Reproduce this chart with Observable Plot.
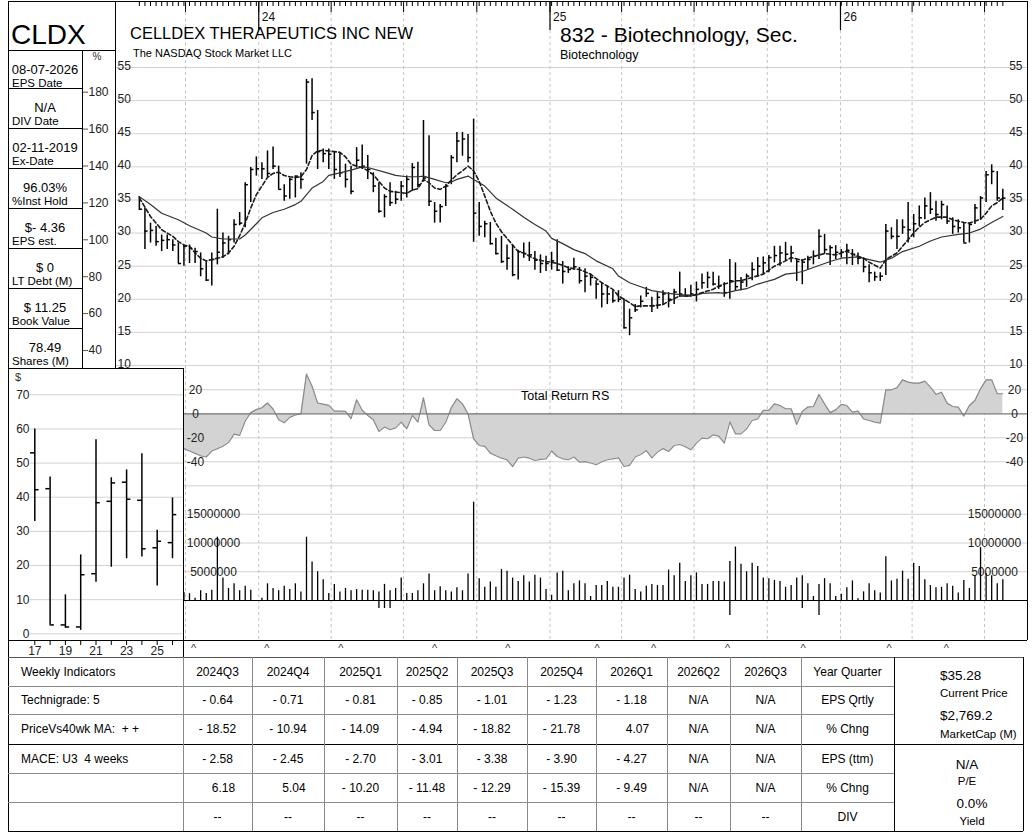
<!DOCTYPE html>
<html>
<head>
<meta charset="utf-8">
<script src="https://cdn.jsdelivr.net/npm/d3@7"></script>
<script src="https://cdn.jsdelivr.net/npm/@observablehq/plot@0.6"></script>
<style>
html,body{margin:0;padding:0;background:#fff;}
#root{position:relative;width:1032px;height:840px;overflow:hidden;background:#fff;font-family:"Liberation Sans",Arial,sans-serif;}
#root svg{position:absolute;}
</style>
</head>
<body>
<div id="root"></div>
<script>
// ---------------- DATA ----------------
const firstWeekDate = "2023-08-04"; // weekly bars, one per week
const barHigh = [35.5,33.8,31.5,31.0,29.7,29.7,29.0,28.5,28.2,28.2,
27.7,27.0,25.7,27.0,33.6,30.0,29.5,32.0,33.1,37.6,
39.9,41.5,40.6,42.4,43.0,40.1,37.3,38.3,38.6,39.1,
53.2,53.3,48.5,42.7,42.7,42.2,42.0,40.4,40.1,42.9,
43.3,41.7,39.1,37.6,35.8,37.6,36.3,37.8,38.6,40.5,
40.7,47.0,44.7,34.6,34.3,37.3,41.7,45.2,45.2,44.9,
47.2,34.6,31.8,31.6,29.2,29.5,28.2,28.2,27.4,28.5,
28.6,27.2,26.7,26.5,27.1,29.0,25.7,24.9,26.2,24.8,
24.6,23.8,22.8,22.5,22.0,21.3,21.3,20.0,18.5,19.2,
20.5,21.8,20.3,21.0,21.3,21.0,21.5,24.1,21.6,22.1,
22.6,23.8,24.1,24.1,23.5,22.5,26.0,25.5,23.3,23.8,
25.5,26.3,26.4,26.6,28.0,28.0,28.6,28.0,26.0,26.0,
26.5,27.3,30.5,29.8,28.1,28.1,27.5,28.3,27.5,27.0,
26.2,25.2,24.1,24.0,31.3,30.8,32.0,32.0,34.6,32.8,
34.1,35.3,36.1,34.8,34.8,34.1,32.3,32.0,31.5,31.5,
34.3,35.5,39.3,40.3,39.3,36.6];
const barLow = [33.4,27.5,28.5,28.0,27.2,27.5,27.2,25.4,25.0,25.4,
25.4,23.4,22.7,22.0,25.2,26.2,26.7,28.5,31.1,30.8,
34.6,38.6,38.1,38.4,39.6,36.6,34.8,35.1,35.3,36.6,
40.4,47.0,39.6,40.6,39.6,38.1,38.4,36.8,35.8,39.8,
39.6,38.1,36.1,33.0,32.3,34.0,34.3,34.8,35.3,36.3,
36.8,37.7,34.0,31.5,31.5,34.0,37.3,40.6,41.6,40.6,
28.6,29.5,29.3,28.2,26.7,25.4,24.4,23.4,22.9,26.2,
25.7,24.4,23.9,24.2,24.4,24.2,22.3,23.9,24.4,22.3,
21.0,22.0,20.0,18.7,19.2,19.4,19.5,15.5,14.5,18.0,
18.7,20.3,18.0,18.5,19.2,18.7,19.2,20.3,20.3,20.3,
19.6,21.5,21.6,22.0,21.5,20.3,20.0,21.3,21.3,21.8,
22.8,23.3,23.8,24.0,25.5,25.0,25.8,25.5,22.7,22.2,
24.5,25.2,26.0,26.8,25.1,26.0,26.2,25.2,25.1,25.2,
24.0,22.5,22.7,22.7,23.6,29.0,27.5,29.8,28.5,29.3,
31.0,32.0,32.8,31.8,32.0,31.3,29.8,30.0,28.5,28.5,
31.3,32.0,34.6,37.3,34.8,33.4];
const barClose = [33.6,30.3,30.4,28.7,28.9,29.0,28.2,25.4,28.0,27.7,
27.2,24.6,22.9,26.0,27.1,28.5,29.0,31.3,31.5,37.3,
39.6,39.7,39.7,39.0,40.1,36.6,35.6,38.1,38.6,38.1,
52.8,48.2,42.3,42.0,41.9,39.6,39.1,38.1,36.3,41.0,
40.1,39.6,37.1,33.3,35.5,34.6,35.1,37.1,38.1,39.9,
37.3,38.3,34.8,33.3,34.0,37.1,41.4,43.9,44.2,41.4,
33.0,31.0,31.4,28.4,26.9,25.7,26.2,23.7,27.2,26.9,
26.7,25.9,25.4,25.4,25.8,24.4,24.2,24.5,24.9,22.8,
23.5,23.3,22.3,20.8,20.8,19.8,20.0,15.7,17.2,18.4,
19.7,20.9,19.0,20.3,20.8,20.0,21.1,20.8,20.5,20.8,
21.5,22.5,23.3,22.3,22.0,21.0,22.8,21.9,22.6,23.5,
24.5,25.0,25.5,26.3,26.6,27.0,26.8,27.0,25.7,25.6,
26.0,26.5,29.5,27.5,27.8,27.1,27.1,27.4,26.8,26.2,
24.9,24.0,23.4,23.5,30.3,29.5,29.5,30.9,30.5,31.4,
32.3,34.1,33.6,32.8,34.3,31.8,31.0,30.8,28.5,31.3,
33.8,35.3,38.8,39.3,35.3,35.28];

// 10-week moving average (dashed), read at these week numbers
const ma10Week = [0,2,4,6,7,8,9,10,11,12,13,15,16,17,18,19,20,21,22,23,24,25,26,27,28,29,30,31,32,33,34,36,37,38,39,40,41,42,43,44,45,46,48,49,50,51,52,53,54,55,56,57,58,59,60,61,62,63,64,65,66,67,68,69,70,71,72,73,74,75,76,77,78,79,81,83,85,86,88,89,90,92,94,95,97,99,101,103,104,105,107,108,110,112,114,116,117,119,120,122,123,125,127,128,130,131,133,134,136,137,138,139,140,141,142,143,145,146,148,149,151,152,153,154,155];
const ma10Value = [35.3,32.5,30.5,29.5,28.7,28.2,28.0,27.0,26.2,25.8,26.0,26.4,27.0,28.0,29.6,31.5,33.8,35.8,37.1,38.4,39.0,39.2,38.7,38.5,38.4,38.5,39.6,41.7,42.4,42.5,42.4,42.2,41.5,40.4,40.1,39.9,39.4,38.8,37.8,36.8,36.3,36.2,36.0,36.5,36.7,38.1,37.6,36.8,36.6,37.1,38.0,38.8,39.4,40.1,39.4,37.8,35.6,33.3,31.5,30.2,29.2,28.2,27.2,27.0,26.5,26.1,25.9,25.7,25.6,25.4,25.1,24.8,24.6,24.5,23.8,22.5,21.5,20.5,19.5,18.9,19.0,19.0,19.2,19.7,20.5,20.5,21.0,21.5,22.0,22.3,22.8,22.8,23.3,23.8,25.0,25.8,26.3,25.9,26.2,26.7,26.9,26.7,27.3,26.8,26.2,25.6,24.7,26.0,27.0,28.0,29.0,30.0,30.9,31.6,32.0,32.4,32.4,32.0,31.6,31.5,32.1,33.0,34.1,34.6,35.3];
// 40-week moving average (solid)
const ma40Week = [0,2,4,7,9,12,13,15,18,19,21,22,24,26,28,29,31,33,34,36,38,40,41,44,46,48,50,51,53,55,56,57,59,60,62,64,67,69,71,73,74,76,78,80,82,85,86,88,90,92,95,97,100,101,104,105,107,109,111,114,116,118,119,122,124,126,129,131,133,135,137,140,142,144,147,149,151,153,155];
const ma40Value = [35.5,34.3,33.0,32.0,31.1,30.0,29.4,29.1,29.1,29.7,31.4,32.3,33.1,33.6,34.3,34.8,36.8,37.8,38.7,39.1,39.5,40.0,39.9,39.2,38.7,38.5,38.5,38.6,38.1,37.6,37.7,38.1,38.6,38.1,37.1,35.3,33.6,32.4,31.3,30.3,29.2,28.4,27.5,26.9,25.8,24.6,23.5,22.5,21.9,21.3,20.9,20.7,20.6,20.9,21.0,20.9,21.3,21.6,22.3,23.0,23.8,24.0,24.2,25.1,25.7,26.2,26.4,26.0,25.6,26.2,27.2,28.0,28.8,29.4,29.8,30.0,30.6,31.6,32.5];

// Total Return RS, weeks 8..155
const rsFirstWeek = 8;
const rsValue = [-29,-31,-33,-35,-36,-31,-29,-27,-24,-17,
-18,-6,1,3.5,5,9,4,-5,-7.5,-3,
-1,0,33,23,9,8,7,2.2,2.2,2,
-4,11.7,3,-1.4,-5,-14.7,-11,-13.3,-11.7,-7,
-12.5,-1.4,-7,13.3,-9.2,-13.9,-13.9,-7,5,12.5,
8.3,0,-20.8,-26.4,-27.2,-32.8,-35,-37,-38.3,-44,
-37,-36,-37,-38.9,-38,-37.5,-31,-35.6,-37.5,-38.3,
-36,-40.3,-39.8,-41,-42.5,-40,-38.3,-37.5,-36.7,-43.9,
-43,-36,-33.9,-30.6,-36.7,-32,-29,-31.4,-26.4,-25.6,
-27.5,-30,-24.4,-20.3,-20.8,-17.5,-18.6,-24.4,-6.9,-16.7,
-16.7,-12.5,-5.6,-4.2,2.8,2.8,8.3,6.9,4.2,4.2,
-8.9,2,5.6,6.1,16.1,8.3,1,3.3,7.8,6.9,
1.4,2.2,-4.2,-5.6,-6.9,-7.8,20,20,21.7,28.3,
26.4,25.6,25.6,27.2,22.2,16.1,18,8.9,6.1,5.6,
-1.9,6.9,11.1,20.8,28.3,28.3,16.7,16.7];

// Weekly volume (millions of shares), weeks 8..155
const volFirstWeek = 8;
const volValue = [1.4,1.2,0.4,1.7,1.2,1.8,11.0,3.9,2.1,2.9,
1.7,2.5,1.8,0,0.4,2.9,2.1,1.7,2.5,1.9,
2.9,1.5,11.0,6.7,5.0,3.6,1.2,2.8,1.5,2.1,
1.7,1.9,1.8,1.8,1.7,1.5,2.8,1.7,2.1,3.9,
1.2,1.2,1.7,2.9,4.6,1.7,2.4,1.7,1.5,2.2,
1.7,4.6,17.1,3.8,2.3,3.2,2.3,5.4,5.1,3.9,
3.3,4.3,3.2,4.4,3.9,1.9,0.9,4.8,5.1,1.7,
2.9,3.4,2.9,0.7,2.6,2.6,3.3,2.3,2.3,3.9,
4.4,1.9,1.5,2.5,2.8,2.6,2.6,5.3,4.3,6.5,
3.3,4.3,4.8,2.8,2.8,3.3,3.3,3.2,6.8,9.3,
6.3,5.0,6.5,5.9,3.9,3.8,3.5,3.3,2.3,2.6,
3.9,4.3,2.9,0.7,2.8,3.8,2.9,0.7,1.1,2.2,
3.4,0.3,1.5,2.9,1.7,1.3,7.6,3.4,3.7,5.1,
3.7,6.5,5.9,3.6,2.6,2.2,2.3,2.9,2.5,1.3,
3.5,2.1,4.3,9.2,4.7,4.3,2.9,3.6];
const volDownWeek = [43,44,45,106,119,122];
const volDownValue = [-1.4,-1.4,-1.4,-2.6,-1.4,-2.6];

const earningsDates = ["2023-10-11","2024-01-11","2024-04-13","2024-08-09","2024-11-09","2025-03-01","2025-05-11","2025-08-12","2025-11-15","2026-03-03","2026-05-14"];
const quarterDates = ["2023-10-01","2024-01-01","2024-04-01","2024-07-01","2024-10-01","2025-01-01","2025-04-01","2025-07-01","2025-10-01","2026-01-01","2026-04-01","2026-07-01"];
const yearDates = ["2024-01-01","2025-01-01","2026-01-01"];
const yearLabels = ["24","25","26"];
const priceTicks = [10,15,20,25,30,35,40,45,50,55];
const pctTicks = [40,60,80,100,120,140,160,180];
const rsTicks = [20,0,-20,-40];
const rsGrid = [20,-20,-40,-60];
const volTicks = [5,10,15];

// yearly inset
const years = [2017,2018,2019,2020,2021,2022,2023,2024,2025,2026];
const yearOpen = [53.0,42.5,2.6,2.0,17.6,38.8,44.4,39.1,25.2,26.7];
const yearHigh = [60.0,45.9,11.4,23.1,56.8,45.7,48.0,52.7,30.3,39.8];
const yearLow = [32.9,2.6,1.7,1.0,15.1,19.5,22.0,22.5,14.0,22.0];
const yearClose = [42.2,2.6,2.0,17.3,38.4,44.2,39.4,24.9,27.1,34.9];
const insetTicks = [0,10,20,30,40,50,60,70];

// side panel
const infoValues = ["08-07-2026","N/A","02-11-2019","96.03%","$- 4.36","$ 0","$ 11.25","78.49"];
const infoLabels = ["EPS Date","DIV Date","Ex-Date","%Inst Hold","EPS est.","LT Debt (M)","Book Value","Shares (M)"];

// table
const tableHeader = ["Weekly Indicators","2024Q3","2024Q4","2025Q1","2025Q2","2025Q3","2025Q4","2026Q1","2026Q2","2026Q3","Year Quarter"];
const rowLabels = ["Technigrade: 5","PriceVs40wk MA:  + +","MACE: U3  4 weeks","",""];
const rowNames = ["EPS Qrtly","% Chng","EPS (ttm)","% Chng","DIV"];
const epsQrtly = ["- 0.64","- 0.71","- 0.81","- 0.85","- 1.01","- 1.23","- 1.18","N/A","N/A"];
const epsQrtlyChg = ["- 18.52","- 10.94","- 14.09","- 4.94","- 18.82","- 21.78","4.07","N/A","N/A"];
const epsTtm = ["- 2.58","- 2.45","- 2.70","- 3.01","- 3.38","- 3.90","- 4.27","N/A","N/A"];
const epsTtmChg = ["6.18","5.04","- 10.20","- 11.48","- 12.29","- 15.39","- 9.49","N/A","N/A"];
const dividends = ["--","--","--","--","--","--","--","--","--"];

// ---------------- BUILD ----------------
const root = document.getElementById("root");
const FONT = '"Liberation Sans", Arial, sans-serif';
const DAY = 864e5;
const weekDate = i => new Date(+new Date(firstWeekDate) + i * 7 * DAY);
const X = {type: "utc", domain: [new Date("2023-07-05"), new Date("2026-08-24")], range: [115, 1027]};
const qDates = quarterDates.map(d => new Date(d));
const baseStyle = {background: "transparent", fontFamily: FONT, fontSize: "12px", color: "#222", overflow: "visible"};
function place(svg, left, top) { svg.style.left = left + "px"; svg.style.top = top + "px"; root.appendChild(svg); }

const bars = barHigh.map((h, i) => ({date: weekDate(i), high: h, low: barLow[i], close: barClose[i]}));
const ma10 = ma10Week.map((w, i) => ({date: weekDate(w), v: ma10Value[i]}));
const ma40 = ma40Week.map((w, i) => ({date: weekDate(w), v: ma40Value[i]}));
const rs = rsValue.map((v, i) => ({date: weekDate(i + rsFirstWeek), v}));
const vol = volValue.map((v, i) => ({date: weekDate(i + volFirstWeek), v})).filter(d => d.v > 0);
const volDown = volDownWeek.map((w, i) => ({date: weekDate(w), v: volDownValue[i]}));

// price panel
place(Plot.plot({
  width: 1032, height: 370, marginTop: 12, marginBottom: 0, marginLeft: 115, marginRight: 5,
  x: {...X, axis: null}, y: {domain: [10, 55], range: [365, 67], axis: null},
  style: baseStyle,
  marks: [
    Plot.ruleY(priceTicks, {stroke: "#d2d2d2"}),
    Plot.ruleX(qDates, {stroke: "#c4c4c4", strokeDasharray: "3,3"}),
    Plot.text(priceTicks, {y: d => d, frameAnchor: "left", dx: 2, dy: -1.5, textAnchor: "start", fontSize: 12, fill: "#222"}),
    Plot.text(priceTicks, {y: d => d, frameAnchor: "right", dx: -5, dy: -1.5, textAnchor: "end", fontSize: 12, fill: "#222"}),
    Plot.ruleX(bars, {x: "date", y1: "low", y2: "high", stroke: "#000", strokeWidth: 1.5}),
    Plot.ruleY(bars, {y: "close", x1: "date", x2: d => new Date(+d.date + 4 * DAY), stroke: "#000", strokeWidth: 1.5}),
    Plot.line(ma40, {x: "date", y: "v", stroke: "#333", strokeWidth: 1.2}),
    Plot.line(ma10, {x: "date", y: "v", stroke: "#1a1a1a", strokeWidth: 1.6, strokeDasharray: "4,2.5"})
  ]
}), 0, 0);

// RS panel
place(Plot.plot({
  width: 1032, height: 116, marginTop: 0, marginBottom: 0, marginLeft: 115, marginRight: 5,
  x: {...X, axis: null}, y: {domain: [-60, 20], range: [115.3, 19.3], axis: null},
  style: baseStyle,
  marks: [
    Plot.ruleY(rsGrid, {stroke: "#d2d2d2"}),
    Plot.ruleX(qDates, {stroke: "#c4c4c4", strokeDasharray: "3,3"}),
    Plot.areaY(rs, {x: "date", y: "v", fill: "#d3d3d3"}),
    Plot.lineY(rs, {x: "date", y: "v", stroke: "#8a8a8a", strokeWidth: 1.2}),
    Plot.ruleY([0], {stroke: "#777", strokeWidth: 1.2}),
    Plot.text(rsTicks, {y: d => d, frameAnchor: "left", dx: 80, textAnchor: "middle", fontSize: 12, fill: "#222"}),
    Plot.text(rsTicks, {y: d => d, frameAnchor: "right", dx: -13, textAnchor: "middle", fontSize: 12, fill: "#222"})
  ]
}), 0, 370);

// Volume panel
place(Plot.plot({
  width: 1032, height: 154, marginTop: 0, marginBottom: 0, marginLeft: 115, marginRight: 5,
  x: {...X, axis: null}, y: {domain: [0, 15], range: [114, 27.75], axis: null},
  style: baseStyle,
  marks: [
    Plot.ruleY(volTicks, {stroke: "#d2d2d2"}),
    Plot.ruleX(qDates, {stroke: "#c4c4c4", strokeDasharray: "3,3"}),
    Plot.text(volTicks, {y: d => d, text: d => String(d * 1000000), frameAnchor: "left", dx: 98, textAnchor: "middle", fontSize: 12, fill: "#222"}),
    Plot.text(volTicks, {y: d => d, text: d => String(d * 1000000), frameAnchor: "right", dx: -33, textAnchor: "middle", fontSize: 12, fill: "#222"}),
    Plot.ruleX(vol, {x: "date", y1: 0, y2: "v", stroke: "#000", strokeWidth: 1.3}),
    Plot.ruleX(volDown, {x: "date", y1: 0, y2: "v", stroke: "#000", strokeWidth: 1.3}),
    Plot.ruleY([0], {stroke: "#000", strokeWidth: 1.2})
  ]
}), 0, 486);

// earnings carets
place(Plot.plot({
  width: 1032, height: 16, marginTop: 0, marginBottom: 0, marginLeft: 115, marginRight: 5,
  x: {...X, axis: null},
  style: baseStyle,
  marks: [Plot.text(earningsDates.map(d => new Date(d)), {x: d => d, text: () => "^", frameAnchor: "middle", fontSize: 11, fill: "#333"})]
}), 0, 640);

// top date strip
place(Plot.plot({
  width: 1032, height: 32, marginTop: 1, marginBottom: 31, marginLeft: 115, marginRight: 5,
  x: {...X},
  style: baseStyle,
  marks: [
    Plot.axisX(bars.map(d => d.date), {anchor: "bottom", tickSize: 5, tickFormat: () => "", stroke: "#000"}),
    Plot.axisX(qDates, {anchor: "bottom", tickSize: 11, tickFormat: () => "", stroke: "#000"}),
    Plot.axisX(yearDates.map(d => new Date(d)), {anchor: "bottom", tickSize: 29, tickFormat: () => "", stroke: "#000", strokeWidth: 1.2}),
    Plot.text(yearDates.map(d => new Date(d)), {x: d => d, text: yearLabels, frameAnchor: "bottom", dx: 3, dy: 19, textAnchor: "start", fontSize: 12, fill: "#111"})
  ]
}), 0, 0);

// percent axis
place(Plot.plot({
  width: 33, height: 370, marginTop: 0, marginBottom: 0, marginLeft: 0, marginRight: 33,
  y: {domain: [40, 180], range: [350, 91.7]},
  style: baseStyle,
  marks: [Plot.axisY(pctTicks, {anchor: "right", tickSize: 5, tickPadding: 1, fontSize: 12, fill: "#222", stroke: "#555"})]
}), 82, 0);

// yearly inset
place(Plot.plot({
  width: 175, height: 289, marginTop: 0, marginBottom: 16, marginLeft: 22, marginRight: 0,
  x: {domain: [2017, 2026], range: [26.3, 164]},
  y: {domain: [0, 70], range: [265.3, 26.3], axis: null},
  style: {...baseStyle, background: "white"},
  marks: [
    Plot.ruleY(insetTicks, {stroke: "#d2d2d2"}),
    Plot.text(insetTicks, {y: d => d, frameAnchor: "left", dx: -1, textAnchor: "end", fontSize: 12, fill: "#222"}),
    Plot.ruleX(years, {x: d => d, y1: (d, i) => yearLow[i], y2: (d, i) => yearHigh[i], stroke: "#000", strokeWidth: 1.5}),
    Plot.ruleY(years, {y: (d, i) => yearOpen[i], x1: d => d - 0.28, x2: d => d, stroke: "#000", strokeWidth: 1.5}),
    Plot.ruleY(years, {y: (d, i) => yearClose[i], x1: d => d, x2: d => d + 0.28, stroke: "#000", strokeWidth: 1.5}),
    Plot.axisX(years, {anchor: "bottom", tickSize: 4, tickPadding: 1, tickFormat: d => (d % 2 ? String(d).slice(2) : ""), fontSize: 12, stroke: "#000", fill: "#222"})
  ]
}), 8, 368);

// ---------------- OVERLAY: borders, texts, table ----------------
const ov = d3.create("svg").attr("width", 1032).attr("height", 840).attr("font-family", FONT)
  .style("left", "0px").style("top", "0px");
function L(x1, y1, x2, y2, c = "#000", w = 1) {
  ov.append("line").attr("x1", x1).attr("y1", y1).attr("x2", x2).attr("y2", y2)
    .attr("stroke", c).attr("stroke-width", w).attr("shape-rendering", "crispEdges");
}
function T(x, y, s, size, anchor = "start", fill = "#000") {
  ov.append("text").attr("x", x).attr("y", y).attr("font-size", size).attr("text-anchor", anchor)
    .attr("fill", fill).style("white-space", "pre").text(s);
}
// frame borders
L(8, 1, 1027, 1); L(8, 1, 8, 831); L(1027, 1, 1027, 640);
L(115, 1, 115, 368); L(8, 50, 115, 50); L(82, 50, 82, 368);
const boxTops = [50, 88, 128, 168, 208, 248, 288, 328];
boxTops.slice(1).forEach(y => L(8, y, 82, y));
L(8, 368, 183, 368); L(183, 368, 183, 657);
L(8, 640, 1027, 640);

// ticker & info
T(11, 44, "CLDX", 28);
boxTops.forEach((t, i) => {
  T(45, t + 24, infoValues[i], 13, "middle");
  T(12, t + 36.5, infoLabels[i], 11.5, "start");
});
T(97, 60, "%", 10, "middle", "#333");
T(15, 381, "$", 11, "start", "#333");

// titles
T(130, 39, "CELLDEX THERAPEUTICS INC NEW", 16.5);
T(133, 57, "The NASDAQ Stock Market LLC", 11);
T(560, 42, "832 - Biotechnology, Sec.", 21);
T(560, 59, "Biotechnology", 12.5);
T(521, 399.5, "Total Return RS", 12.5);

// table
const colEdges = [8, 183, 252, 324, 397, 457, 527, 596, 667, 730, 801, 894, 1023];
const rowEdges = [657, 686, 714, 744, 773, 802, 831];
L(8, 657, 1023, 657, "#555");
[686, 714, 773, 802].forEach(y => L(8, y, 894, y, "#8a8a8a"));
L(8, 744, 1023, 744, "#000");
L(8, 831, 1023, 831, "#000");
colEdges.slice(1, 11).forEach(x => L(x, 657, x, 831, "#8a8a8a"));
L(894, 657, 894, 831, "#000"); L(1023, 657, 1023, 831, "#000");

const rowMid = i => (rowEdges[i] + rowEdges[i + 1]) / 2 + 4.2;
const colMid = j => (colEdges[j] + colEdges[j + 1]) / 2;
T(21, rowMid(0), tableHeader[0], 12);
tableHeader.slice(1).forEach((h, j) => T(colMid(j + 1), rowMid(0), h, 12, "middle"));
const rowsData = [epsQrtly, epsQrtlyChg, epsTtm, epsTtmChg, dividends];
rowsData.forEach((vals, r) => {
  T(21, rowMid(r + 1), rowLabels[r], 12);
  vals.forEach((v, j) => {
    const pos = /^[0-9]/.test(v) ? 6 : 0;
    T(colMid(j + 1) + pos, rowMid(r + 1), v, 12, "middle");
  });
  T(colMid(10), rowMid(r + 1), rowNames[r], 12, "middle");
});
// right summary box
T(940, 680, "$35.28", 13.5);
T(940, 697, "Current Price", 11.5);
T(940, 720, "$2,769.2", 13.5);
T(940, 737.5, "MarketCap (M)", 11.5);
T(967, 769, "N/A", 13.5, "middle");
T(967, 784.5, "P/E", 11.5, "middle");
T(972, 808, "0.0%", 13.5, "middle");
T(972, 825, "Yield", 11.5, "middle");

root.appendChild(ov.node());
</script>
</body>
</html>
